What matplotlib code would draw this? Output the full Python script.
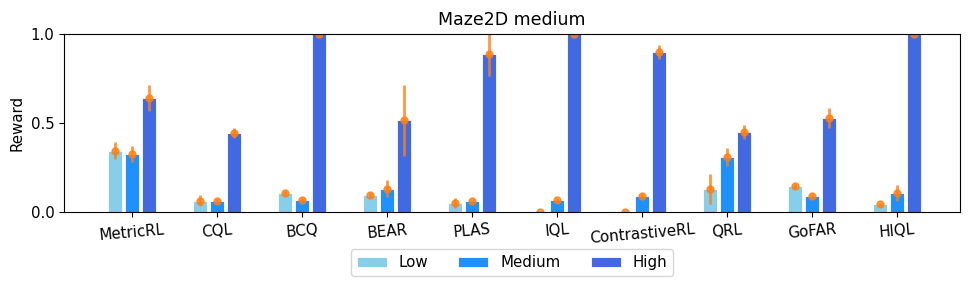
import matplotlib.pyplot as plt
import numpy as np

methods = ['MetricRL', 'CQL', 'BCQ', 'BEAR', 'PLAS', 'IQL',
           'ContrastiveRL', 'QRL', 'GoFAR', 'HIQL']

low_mean = [0.345, 0.065, 0.11, 0.098, 0.052, 0.003, 0.002, 0.13, 0.147, 0.045]
low_std = [0.046, 0.032, 0.008, 0.008, 0.028, 0.004, 0.003, 0.084, 0.01, 0.008]

med_mean = [0.325, 0.064, 0.07, 0.132, 0.062, 0.068, 0.094, 0.308, 0.09, 0.108]
med_std = [0.044, 0.01, 0.008, 0.048, 0.008, 0.008, 0.008, 0.05, 0.01, 0.046]

high_mean = [0.64, 0.442, 1.0, 0.515, 0.885, 1.0, 0.898, 0.45, 0.528, 1.0]
high_std = [0.073, 0.028, 0.005, 0.2, 0.12, 0.005, 0.04, 0.04, 0.056, 0.005]

levels = ['Low', 'Medium', 'High']
colors = ['skyblue', 'dodgerblue', 'royalblue']

plt.rcParams['font.size'] = 10.8

fig = plt.figure(figsize=(9.71, 2.88), dpi=100)
ax = fig.add_axes([64 / 971, 1 - 212.3 / 288, 896 / 971, 178.6 / 288])

x = np.arange(len(methods))
step = 0.2
series = [(low_mean, low_std), (med_mean, med_std), (high_mean, high_std)]

for i, (mean, std) in enumerate(series):
    pos = x + (i - 1) * step
    ax.bar(pos, mean, 0.165, color=colors[i], label=levels[i],
           edgecolor='white', linewidth=0.6)
    ax.errorbar(pos, mean, yerr=std, fmt='o', color='tab:orange',
                alpha=0.8, elinewidth=2, markersize=5)

ax.set_ylim(0, 1)
ax.set_xlim(-0.8, 9.74)
ax.set_yticks([0, 0.5, 1.0])
ax.set_xticks(x)
ax.set_xticklabels(methods, rotation=5)
ax.set_ylabel('Reward')
ax.set_title('Maze2D medium', fontsize=12.5)
ax.legend(loc='upper center', bbox_to_anchor=(0.5, -0.165), ncol=3)

plt.savefig('out.png', dpi=100)
